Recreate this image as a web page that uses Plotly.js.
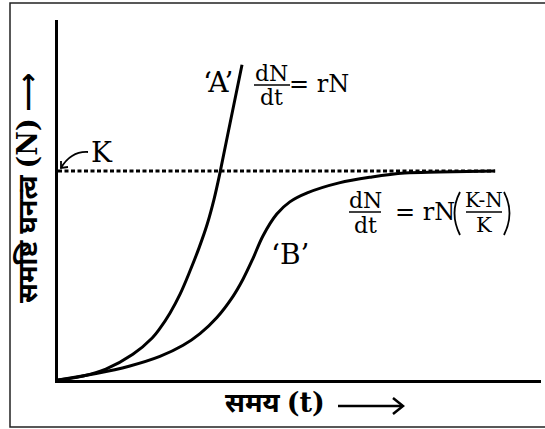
<!DOCTYPE html>
<html>
<head>
<meta charset="utf-8">
<script src="https://cdn.plot.ly/plotly-3.0.1.min.js"></script>
<style>
  html, body { margin:0; padding:0; background:#fff; }
  #chart { width:545px; height:429px; }
</style>
</head>
<body>
<div id="chart"></div>
<script>

/* ==========================================
   DATA  (t = time, N = population density)
========================================== */

const K = 100;

// 'A' : exponential growth, dN/dt = rN
const timeA = [0, 0.52, 0.99, 1.55, 1.95, 2.11, 2.32, 2.53, 2.73, 2.92, 3.09, 3.23, 3.35, 3.56, 3.81];
const popA  = [0, 1.9, 5.2, 12.3, 20.1, 24.7, 32.1, 41.2, 52.0, 63.2, 74.6, 86.4, 98.7, 122.6, 150.8];

// 'B' : logistic growth, dN/dt = rN(K-N)/K
const timeB = [0, 0.79, 1.47, 2.11, 2.59, 2.94, 3.29, 3.62, 3.83, 4.04, 4.24, 4.53, 4.80, 5.16, 5.82, 6.50, 7.18, 7.89, 9.05];
const popB  = [0, 3.1, 6.6, 11.3, 16.6, 22.2, 29.9, 39.9, 48.2, 58.3, 68.8, 79.4, 85.2, 89.5, 94.3, 97.1, 99.0, 99.5, 100];

// carrying capacity line
const timeK = [0, 9.05];
const popK  = [K, K];

const xLabel = "समय";
const yLabel = "समष्टि घनत्व";


/* ==========================================
   HELPERS  (pixel -> paper)
========================================== */

const PLOT = { l:58, r:4, t:20, b:49, w:545, h:429 };
const plotW = PLOT.w - PLOT.l - PLOT.r;
const plotH = PLOT.h - PLOT.t - PLOT.b;

function px(x){ return (x - PLOT.l) / plotW; }
function py(y){ return (PLOT.h - PLOT.b - y) / plotH; }

function path(points){
    return points.map((p,i)=>(i===0?"M":(p.length===4?"Q":"L")) +
        (p.length===4 ? px(p[0])+","+py(p[1])+" "+px(p[2])+","+py(p[3]) : px(p[0])+","+py(p[1]))
    ).join(" ");
}

const serif = "DejaVu Serif, Liberation Serif, serif";
const deva  = "Noto Sans Devanagari, Noto Sans, DejaVu Sans, sans-serif";

function label(text, x, y, size, extra){
    return Object.assign({
        xref:"paper", yref:"paper",
        x:px(x), y:py(y),
        xanchor:"center", yanchor:"middle",
        text:text, showarrow:false,
        font:{ family:serif, size:size, color:"#000" }
    }, extra || {});
}

function bar(x0, x1, y){
    return {
        type:"line", xref:"paper", yref:"paper",
        x0:px(x0), x1:px(x1), y0:py(y), y1:py(y),
        line:{ color:"#000", width:1.5 }
    };
}


/* ==========================================
   TRACES
========================================== */

const lineStyle = { color:"#000", width:3, shape:"spline", smoothing:1 };

const traces = [
    {
        x:timeK, y:popK, mode:"lines",
        line:{ color:"#000", width:3, dash:"4px,2.5px" },
        hoverinfo:"skip"
    },
    {
        x:timeA, y:popA, mode:"lines",
        line:lineStyle, name:"A"
    },
    {
        x:timeB, y:popB, mode:"lines",
        line:lineStyle, name:"B"
    }
];


/* ==========================================
   LAYOUT
========================================== */

const serifSpan = '<span style="font-family:DejaVu Serif, serif">';

const layout = {
    width:PLOT.w,
    height:PLOT.h,
    margin:{ l:PLOT.l, r:PLOT.r, t:PLOT.t, b:PLOT.b, pad:0 },
    paper_bgcolor:"#fff",
    plot_bgcolor:"#fff",
    showlegend:false,
    xaxis:{
        range:[0, 10],
        showline:true, linecolor:"#000", linewidth:3,
        showgrid:false, zeroline:false,
        showticklabels:false, ticks:""
    },
    yaxis:{
        range:[0, 172.2],
        showline:true, linecolor:"#000", linewidth:3,
        showgrid:false, zeroline:false,
        showticklabels:false, ticks:""
    },
    annotations:[
        label("‘A’", 218, 82, 28),
        label("dN", 271, 73, 22),
        label("dt", 271, 97, 22),
        label("= rN", 319, 84, 24),
        label("K", 102, 152, 28),
        label("‘B’", 290, 254, 28),
        label("dN", 365, 200, 22),
        label("dt", 365, 225, 22),
        label("= rN", 425, 212, 24),
        label("K-N", 484, 200, 20),
        label("K", 484, 225, 21),
        label("<b>" + xLabel + " " + serifSpan + "(t)</span></b>", 275, 405, 27,
              { font:{ family:deva, size:27, color:"#000" } }),
        label("<b>" + yLabel + " " + serifSpan + "(N)</span> ⟶</b>", 30, 188, 27,
              { font:{ family:deva, size:27, color:"#000" }, textangle:-90 })
    ],
    shapes:[
        // outer frame
        {
            type:"rect", xref:"paper", yref:"paper",
            x0:px(10), x1:px(560), y0:py(427), y1:py(3),
            line:{ color:"#222", width:1.5 }
        },
        // fraction bars
        bar(254, 290, 85),
        bar(349, 381, 212),
        bar(466, 502, 212),
        // big brackets
        {
            type:"path", xref:"paper", yref:"paper",
            path:path([[460,192],[449,213,460,235]]),
            line:{ color:"#000", width:1.8 }
        },
        {
            type:"path", xref:"paper", yref:"paper",
            path:path([[504,192],[515,213,504,235]]),
            line:{ color:"#000", width:1.8 }
        },
        // curved arrow from K to the axis
        {
            type:"path", xref:"paper", yref:"paper",
            path:path([[88,152],[71,151,61,168]]),
            line:{ color:"#000", width:1.8 }
        },
        {
            type:"path", xref:"paper", yref:"paper",
            path:path([[61,161],[61,168],[68,167]]),
            line:{ color:"#000", width:1.8 }
        },
        // arrow after time label
        {
            type:"line", xref:"paper", yref:"paper",
            x0:px(338), x1:px(402), y0:py(406), y1:py(406),
            line:{ color:"#000", width:2.5 }
        },
        {
            type:"path", xref:"paper", yref:"paper",
            path:path([[393,398],[403,406],[393,414]]),
            line:{ color:"#000", width:2.5 }
        }
    ]
};

Plotly.newPlot("chart", traces, layout, { displayModeBar:false, staticPlot:true });

</script>
</body>
</html>
